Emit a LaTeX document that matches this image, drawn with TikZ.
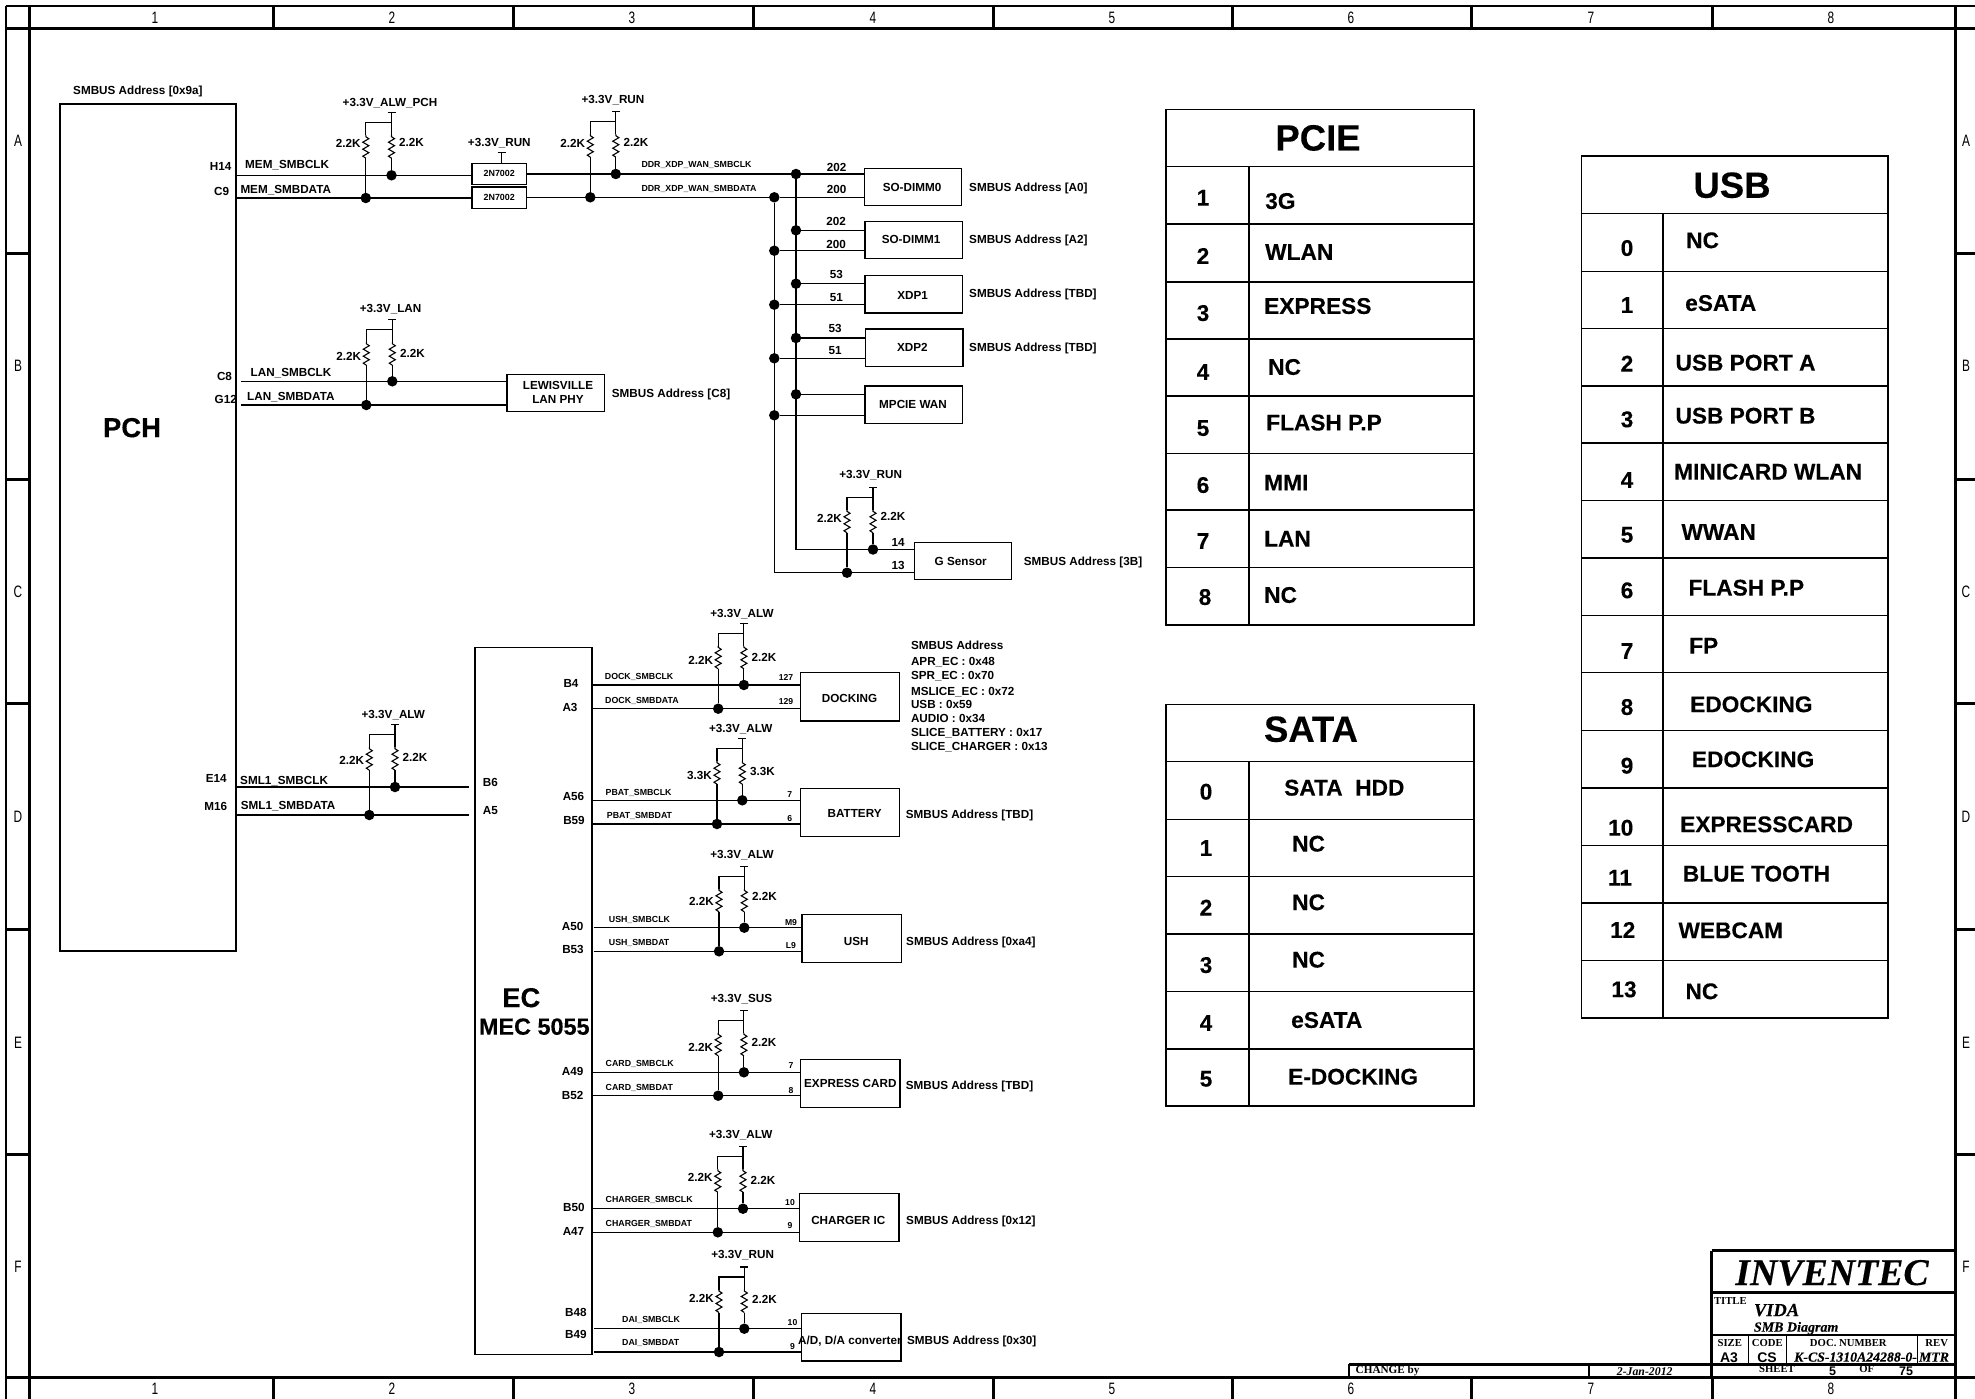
\documentclass[tikz,border=0pt]{standalone}
\usepackage{fontspec}
\setmainfont{Liberation Sans}
\newfontfamily\titlefont{Liberation Serif}
\newfontfamily\framefont[FakeStretch=0.72]{Liberation Sans}
\newfontfamily\tabfont[BoldFeatures={FakeBold=0.25}]{Liberation Sans}
\newfontfamily\logofont[BoldItalicFeatures={FakeBold=0.25}]{Liberation Serif}
\tikzset{
  wire/.style={line width=1.1pt},
  thickline/.style={line width=3pt},
  thinframe/.style={line width=2pt},
  chip/.style={draw,line width=1.2pt,inner sep=0pt,outer sep=0pt,anchor=north west},
  dot/.style={circle,fill=black,inner sep=0pt,minimum size=10.5pt},
  txt/.style={inner sep=0pt,font=\fontsize{11.7}{14}\selectfont\bfseries,text height=8.4pt,text depth=0pt},
  txtw/.style={txt,anchor=west},
  sig/.style={inner sep=0pt,anchor=west,font=\fontsize{8.8}{10}\selectfont\bfseries,text height=6.4pt,text depth=0pt},
  small/.style={inner sep=0pt,font=\fontsize{8.6}{10}\selectfont\bfseries,text height=6.2pt,text depth=0pt},
  tabnum/.style={inner sep=0pt,yshift=-0.7pt,font=\tabfont\fontsize{22.7}{26}\selectfont\bfseries,text height=16.3pt,text depth=0pt},
  tabtxt/.style={tabnum,anchor=west},
  tabhead/.style={inner sep=0pt,yshift=-0.7pt,font=\tabfont\fontsize{36.5}{40}\selectfont\bfseries,text height=26.2pt,text depth=0pt},
  grid/.style={inner sep=0pt,font=\framefont\fontsize{16.5}{20}\selectfont,text height=11.8pt,text depth=0pt},
  ser/.style={inner sep=0pt,font=\titlefont\fontsize{10.7}{12}\selectfont\bfseries,text height=7.2pt,text depth=0pt},
  serit/.style={inner sep=0pt,anchor=west,text depth=0pt},
}
\def\rzig{%
    \draw [wire] (0,0)--(0,1.5)--(3,3.5)--(-3,7)--(3,10.5)--(-3,14)--(3,17.5)--(-3,21)--(0,23);
}
\begin{document}
\begin{tikzpicture}[x=1pt,y=-1pt]
\useasboundingbox (0,0) rectangle (1975,1399);
%frame
  \draw[thinframe] (6,6) -- (1975,6);
  \draw[thinframe] (6,6) -- (6,1399);
  \draw[thickline] (6,29) -- (1975,29);
  \draw[thickline] (6,1377) -- (1975,1377);
  \draw[thickline] (29,6) -- (29,1399);
  \draw[thickline] (1955,6) -- (1955,1399);
\foreach \x in {273,513,753,993,1232,1471,1712}
{
\draw[thickline] (\x,6) -- (\x,29);
\draw[thickline] (\x,1377) -- (\x,1399);
}
\foreach \y in {253,479,703,929,1154}
{
\draw[thickline] (6,\y) -- (29,\y);
\draw[thickline] (1955,\y) -- (1975,\y);
}
\foreach \t/\x in {1/155,2/392,3/632,4/873,5/1112,6/1351,7/1591,8/1831}
{
\node[grid] (top\t) at (\x,18) {\t};
\node[grid] (bot\t) at (\x,1389) {\t};
}
\foreach \t/\y in {A/141,B/366,C/592,D/817,E/1043,F/1267}
{
\node[grid] (left\t) at (18,\y) {\t};
\node[grid] (right\t) at (1966,\y) {\t};
}
%boxes
\foreach \n/\x/\y/\w/\h in {pch/60/104/176/847,ec/475/647.3/117/707.4,mosa/472/163.3/54.5/21,mosb/472/187/54.5/21.3,
  lewis/507/374.3/97.6/37.4,dimma/864.3/168.3/97.4/37,dimmb/865/221.3/97.3/37,xdpa/865/275.7/97.3/37.3,
  xdpb/865.7/329/97.3/37.3,wan/865/386/97.3/37.3,gsen/914.3/542.3/97.4/37,dock/800.4/672.7/98.9/48.3,
  batt/800.4/788.7/98.9/48,ush/802/914.3/99.3/48,card/800.8/1059.7/99.2/48,chrg/799.7/1193.7/99.3/47.6,dai/801.2/1313.7/99.7/47.3}
{
\node[chip,minimum width=\w pt,minimum height=\h pt] (\n) at (\x,\y) {};
}
\node[txt,font=\tabfont\fontsize{27.5}{30}\selectfont\bfseries,text height=19.7pt] (pchname) at (132,427.3) {PCH};
\node[txt,font=\tabfont\fontsize{27.3}{30}\selectfont\bfseries,text height=19.6pt] (ecname) at (521.3,997.3) {EC};
\node[txt,font=\tabfont\fontsize{23.4}{26}\selectfont\bfseries,text height=16.8pt] (ecpart) at (534.3,1026.3) {MEC 5055};
\node[small,font=\fontsize{8.9}{10}\selectfont\bfseries] (mosaname) at (mosa.center) {2N7002};
\node[small,font=\fontsize{8.9}{10}\selectfont\bfseries] (mosbname) at (mosb.center) {2N7002};
\foreach \n/\x/\y/\t in {leta/558/385/LEWISVILLE,letb/558/399/LAN PHY,dimmat/912/187/SO-DIMM0,dimmbt/911/239/SO-DIMM1,
  xdpat/912.7/295/XDP1,xdpbt/912.3/347/XDP2,want/913/404.7/MPCIE WAN,gsent/960.7/561/G Sensor,
  dockt/849.5/698/DOCKING,battt/854.6/813.7/BATTERY,usht/856.2/941.7/USH,cardt/850.3/1083.7/EXPRESS CARD,
  chrgt/848.3/1220/CHARGER IC,dait/849.9/1340/{A/D, D/A converter}}
{
\node[txt] (\n) at (\x,\y) {\t};
}
%addresses
\foreach \n/\x/\y/\t in {adpch/73/90/{[0x9a]},adlan/611.7/393/{[C8]},ada0/969/187/{[A0]},ada2/969/239/{[A2]},adxa/969/293.7/{[TBD]},
  adxb/969/347/{[TBD]},adg/1023.7/561/{[3B]},adbat/905.6/814/{[TBD]},adush/906/941/{[0xa4]},adcard/905.6/1085/{[TBD]},
  adchg/906/1220/{[0x12]},addai/906.8/1340/{[0x30]}}
{
\node[txtw] (\n) at (\x,\y) {SMBUS Address \t};
}
\foreach \n/\y/\t in {la/645/SMBUS Address,lb/661/APR\_EC : 0x48,lc/675/SPR\_EC : 0x70,ld/691/MSLICE\_EC : 0x72,le/704/USB : 0x59,
  lf/718/AUDIO : 0x34,lg/732/SLICE\_BATTERY : 0x17,lh/746/SLICE\_CHARGER : 0x13}
{
\node[txtw] (\n) at (910.8,\y) {\t};
}
%pull ups
\foreach \n/\pwr/\pwrx/\pwry/\rv/\xl/\xr/\yt/\lab/\rab/\yc/\yd in {
  alwpch/+3.3V\_ALW\_PCH/390/102/2.2K/365.8/391.5/112.7/143/142/175.3/198,
  runa/+3.3V\_RUN/613/99/2.2K/590.3/615.8/111.7/143/142/174/197.3,
  lan/+3.3V\_LAN/390.6/308/2.2K/366.3/392.3/319.7/356/353/381.3/405,
  runb/+3.3V\_RUN/870.7/474/2.2K/847/873/487.3/518/516.7/549.5/572.7,
  sml/+3.3V\_ALW/393.3/714/2.2K/369.3/395/724.7/760.7/757/787/815,
  alwa/+3.3V\_ALW/742/613/2.2K/718.2/743.9/623.3/660/657/685/708.7,
  alwb/+3.3V\_ALW/740.7/728.3/3.3K/717/742.3/738.7/775/771/800.3/824,
  alwc/+3.3V\_ALW/742/854/2.2K/719/744.3/866.3/901/896.7/927.7/951.3,
  sus/+3.3V\_SUS/741.5/998/2.2K/718.2/743.9/1010.3/1047/1042.7/1072.3/1095.7,
  alwd/+3.3V\_ALW/740.7/1134/2.2K/717.8/743/1146.7/1177/1180/1208.7/1232.3,
  runc/+3.3V\_RUN/742.7/1254/2.2K/719/744.3/1267/1298/1299.7/1328.7/1352}
{
\node[txt] (\n-pwr) at (\pwrx,\pwry) {\pwr};
\node[txt,anchor=east] (\n-rl) at (\xl-5,\lab) {\rv};
\node[txt,anchor=west] (\n-rr) at (\xr+7.5,\rab) {\rv};
\coordinate (\n-t) at (\xr,\yt);
\coordinate (\n-j) at (\xr,\yt+10);
\coordinate (\n-a) at (\xl,\yt+10);
\node[dot] (\n-clk) at (\xr,\yc) {};
\node[dot] (\n-dat) at (\xl,\yd) {};
\draw[wire] ([xshift=-4pt]\n-t) -- ([xshift=4pt]\n-t);
\draw[wire] (\n-t) -- ++(0,22.5) coordinate (\n-r);
\draw[wire] (\n-j) -- (\n-a) -- ++(0,12.5) coordinate (\n-l);
\begin{scope}[shift={(\n-r)}]
\rzig
\end{scope}
\begin{scope}[shift={(\n-l)}]
\rzig
\end{scope}
\draw[wire] (\n-r) ++(0,23) -- (\n-clk);
\draw[wire] (\n-l) ++(0,23) -- (\n-dat);
}
%mem bus
\coordinate (h14) at (234.7,175.3);
\coordinate (c9) at (236,198);
\draw[wire] (h14) -- (h14 -| mosa.west);
\draw[wire] (c9) -- (c9 -| mosb.west);
\node[txt] (mosrun) at (499.3,142) {+3.3V\_RUN};
\coordinate (mosrunt) at (501.5,152.3);
\draw[wire] ([xshift=-4pt]mosrunt) -- ([xshift=4pt]mosrunt);
\draw[wire] (mosrunt) -- (mosrunt |- mosa.north);
\node[dot] (busclk) at (796,174) {};
\node[dot] (busdat) at (774.3,197.3) {};
\draw[wire] (busclk -| mosa.east) -- (busclk) -- (busclk -| dimma.west);
\draw[wire] (busdat -| mosb.east) -- (busdat) -- (busdat -| dimma.west);
\draw[wire] (busclk) |- (runb-clk) -- (runb-clk -| gsen.west);
\draw[wire] (busdat) |- (runb-dat) -- (runb-dat -| gsen.west);
\foreach \n/\bx/\yc/\yd in {dimb/dimmb/230.3/250.7,xa/xdpa/283.7/304.7,xb/xdpb/338/358.3,w/wan/394.3/415.3}
{
\node[dot] (\n-c) at (796,\yc) {};
\node[dot] (\n-d) at (774.3,\yd) {};
\draw[wire] (\n-c) -- (\n-c -| \bx.west);
\draw[wire] (\n-d) -- (\n-d -| \bx.west);
}
%lan and sml1
\coordinate (c8) at (241.3,381.3);
\coordinate (g12) at (241.3,405);
\draw[wire] (c8) -- (c8 -| lewis.west);
\draw[wire] (g12) -- (g12 -| lewis.west);
\coordinate (e14) at (236,787);
\coordinate (m16) at (236,815);
\coordinate (b6) at (469,787);
\coordinate (a5) at (469,815);
\draw[wire] (e14) -- (b6);
\draw[wire] (m16) -- (a5);
%ec wires
\foreach \n/\bx/\xs in {alwa/dock/592,alwb/batt/591.3,alwc/ush/593.6,sus/card/592,alwd/chrg/592,runc/dai/594}
{
\coordinate (\n-s) at (\xs,0);
\draw[wire] (\n-s |- \n-clk) -- (\n-clk -| \bx.west);
\draw[wire] (\n-s |- \n-dat) -- (\n-dat -| \bx.west);
}
%pin names
\foreach \x/\y/\t [count=\i] in {220.7/166.7/H14,221.7/191/C9,224.5/376/C8,225.8/399.3/G12,216.3/778/E14,215.7/806.7/M16,
  490.4/782/B6,490.4/810/A5,571/683/B4,570/707/A3,573.5/796/A56,574/820/B59,572.7/926/A50,573/949/B53,
  572.7/1071/A49,572.7/1095/B52,573.9/1207/B50,573.5/1231/A47,575.9/1312/B48,575.9/1334.7/B49,
  836.7/167/202,836.7/189/200,836/221/202,836/244/200,836.3/274/53,836.3/297/51,835/328/53,835/350.7/51,898/542/14,898/565/13}
{
\node[txt] (pin\i) at (\x,\y) {\t};
}
\foreach \x/\y/\t [count=\i] in {245/164/MEM\_SMBCLK,240.3/189/MEM\_SMBDATA,250.5/372/LAN\_SMBCLK,247/396/LAN\_SMBDATA,
  240/780/SML1\_SMBCLK,240.7/805/SML1\_SMBDATA}
{
\node[txtw] (net\i) at (\x,\y) {\t};
}
\foreach \x/\y/\t [count=\i] in {641.3/164/DDR\_XDP\_WAN\_SMBCLK,641.3/188.7/DDR\_XDP\_WAN\_SMBDATA,604.7/676/DOCK\_SMBCLK,605/700/DOCK\_SMBDATA,
  605.5/792/PBAT\_SMBCLK,606.7/815/PBAT\_SMBDAT,608.7/919/USH\_SMBCLK,608.7/942/USH\_SMBDAT,605.5/1063/CARD\_SMBCLK,605.5/1087/CARD\_SMBDAT,
  605.5/1199/CHARGER\_SMBCLK,605.5/1223/CHARGER\_SMBDAT,622/1319/DAI\_SMBCLK,622/1342/DAI\_SMBDAT}
{
\node[sig] (sig\i) at (\x,\y) {\t};
}
\foreach \x/\y/\t [count=\i] in {786/677.7/127,786/701/129,789.8/794/7,789.8/818/6,791/922/M9,791/945/L9,791/1065.7/7,791/1090/8,
  790/1202/10,790/1225/9,792.5/1322/10,792.5/1346/9}
{
\node[small] (sp\i) at (\x,\y) {\t};
}
%pcie
\draw[wire] (1166,109.5) rectangle (1474,625);
\draw[wire] (1249,166.5) -- (1249,625);
\foreach \y in {166.5,224,282,339,396,453.5,510,567.5}
{
\draw[wire] (1166,\y) -- (1474,\y);
}
\node[tabhead] (pcie) at (1318,136.7) {PCIE};
\foreach \n/\x/\y/\tx/\ty/\t in {1/1203/196.7/1265/200/3G,2/1203/255/1265/251/WLAN,3/1203/312/1264/305/EXPRESS,4/1203/371/1268/366/NC,
  5/1203/427/1266/421.6/FLASH P.P,6/1203/484/1264/481.6/MMI,7/1203/540/1264/537.7/LAN,8/1205/596/1264/594/NC}
{
\node[tabnum] (pn\n) at (\x,\y) {\n};
\node[tabtxt] (pt\n) at (\tx,\ty) {\t};
}
%sata
\draw[wire] (1166,704.7) rectangle (1474,1106);
\draw[wire] (1249,761.7) -- (1249,1106);
\foreach \y in {761.7,819.3,876.7,934,991.7,1049}
{
\draw[wire] (1166,\y) -- (1474,\y);
}
\node[tabhead] (sata) at (1311,728) {SATA};
\foreach \n/\y/\tx/\ty/\t in {0/790.7/1284/786.7/SATA\ \ HDD,1/847/1292/842.7/NC,2/906.7/1292/901.3/NC,3/964/1292/958.7/NC,
  4/1022/1291/1019/eSATA,5/1077.7/1288/1075.7/E-DOCKING}
{
\node[tabnum] (sn\n) at (1206,\y) {\n};
\node[tabtxt] (st\n) at (\tx,\ty) {\t};
}
%usb
\draw[wire] (1581.3,156) rectangle (1888,1018);
\draw[wire] (1663,213.7) -- (1663,1018);
\foreach \y in {213.7,271.3,328.7,386,443,500.3,558,615.3,672.7,730.3,788,845.7,903,960.7}
{
\draw[wire] (1581.3,\y) -- (1888,\y);
}
\node[tabhead] (usb) at (1732,184) {USB};
\foreach \n/\x/\y/\tx/\ty/\t in {0/1627/247/1686/239.3/NC,1/1627/304/1685/302/eSATA,2/1627/362.7/1675.3/361.7/USB PORT A,
  3/1627/418.3/1675.3/414.7/USB PORT B,4/1627/479/1674/470.7/MINICARD WLAN,5/1627/533.7/1681.3/531/WWAN,6/1627/589.3/1688.3/586.7/FLASH P.P,
  7/1627/650/1689/644.7/FP,8/1627/706/1690/703.3/EDOCKING,9/1627/764.7/1691.7/758.3/EDOCKING,10/1620.7/826.7/1680/823.3/EXPRESSCARD,
  11/1620/876.7/1682.7/872.7/BLUE TOOTH,12/1622.7/929/1678.3/929.3/WEBCAM,13/1624/988.3/1685.3/990.3/NC}
{
\node[tabnum] (un\n) at (\x,\y) {\n};
\node[tabtxt] (ut\n) at (\tx,\ty) {\t};
}
%title block
\draw[thickline] (1711.7,1250.7) -- (1955,1250.7);
\draw[thickline] (1711.7,1250.7) -- (1711.7,1377);
\draw[thickline] (1711.7,1292.7) -- (1955,1292.7);
\draw[thinframe] (1711.7,1335) -- (1955,1335);
\draw[thickline] (1349.3,1364) -- (1955,1364);
\draw[thinframe] (1349.3,1364) -- (1349.3,1377);
\draw[thinframe] (1589,1364) -- (1589,1377);
\foreach \x in {1748.8,1786.6,1917.4}
{
\draw[wire] (\x,1335) -- (\x,1364);
}
\node[serit,font=\logofont\fontsize{37.8}{40}\selectfont\bfseries\itshape,anchor=center,text height=25pt] (inventec) at (1832,1272.5) {INVENTEC};
\node[ser,anchor=west] (titlelab) at (1713.8,1301) {TITLE};
\node[serit,font=\logofont\fontsize{18.5}{20}\selectfont\bfseries\itshape,text height=12.3pt] (vida) at (1753.7,1310) {VIDA};
\node[serit,font=\logofont\fontsize{14}{16}\selectfont\bfseries\itshape,text height=9.3pt] (smbdiag) at (1753.7,1327) {SMB Diagram};
\foreach \n/\x/\y/\t in {sz/1729.8/1343/SIZE,cd/1767.3/1343/CODE,dn/1848.3/1343/DOC. NUMBER,rv/1936.7/1343/REV,
  sh/1777/1369.3/SHEET,of/1866.8/1369.3/OF}
{
\node[ser] (\n) at (\x,\y) {\t};
}
\foreach \n/\x/\y/\t in {sza/1729/1357/A3,cda/1767/1357/CS}
{
\node[inner sep=0pt,font=\fontsize{14}{16}\selectfont\bfseries,text height=10pt,text depth=0pt] (\n) at (\x,\y) {\t};
}
\foreach \n/\x/\y/\t in {shn/1832.7/1371/5,sht/1906/1371/75}
{
\node[inner sep=0pt,font=\fontsize{12.5}{15}\selectfont\bfseries,text height=9pt,text depth=0pt] (\n) at (\x,\y) {\t};
}
\node[serit,font=\logofont\fontsize{13.8}{16}\selectfont\bfseries\itshape,text height=9.2pt] (docnum) at (1794,1357) {K-CS-1310A24288-0-};
\node[serit,font=\logofont\fontsize{13.8}{16}\selectfont\bfseries\itshape,anchor=center,text height=9.2pt] (revname) at (1934,1357) {MTR};
\node[serit,font=\titlefont\fontsize{11.2}{13}\selectfont\bfseries,text height=7.5pt] (changeby) at (1355.5,1370) {CHANGE by};
\node[serit,font=\titlefont\fontsize{11.8}{13}\selectfont\bfseries\itshape,anchor=center,text height=8pt] (datelab) at (1644.7,1371) {2-Jan-2012};
\end{tikzpicture}
\end{document}
